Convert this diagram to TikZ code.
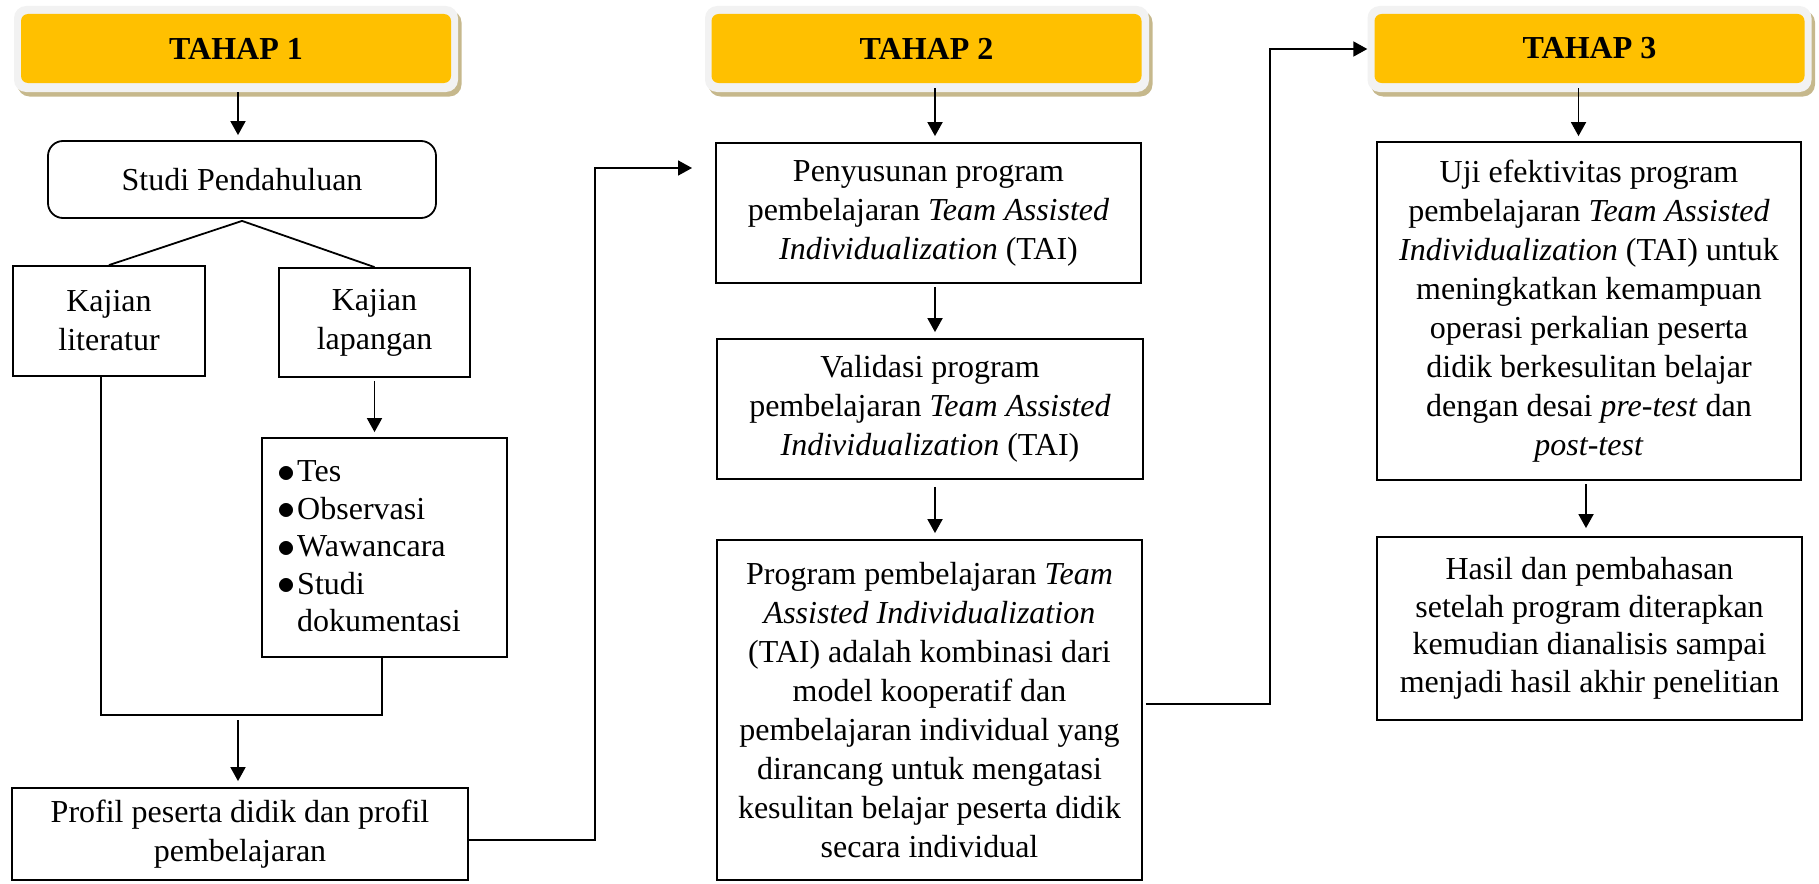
\documentclass[tikz,border=0pt]{standalone}
\usepackage{fontspec}
\setmainfont{Liberation Serif}
\usetikzlibrary{arrows.meta,calc}
\definecolor{tyellow}{RGB}{255,192,0}
\definecolor{tlight}{RGB}{242,242,242}
\definecolor{tshadow}{RGB}{198,184,140}
\newcommand{\bigbul}{\raisebox{-0.5pt}{\scalebox{1.45}{$\bullet$}}}
\begin{document}
\begin{tikzpicture}[x=1pt,y=-1pt,
  txt/.style={align=center, inner sep=0pt, font=\fontsize{32}{39}\selectfont},
  box/.style={txt, draw, line width=1.8pt},
  ln/.style={line width=1.8pt},
  arr/.style={line width=1.8pt, -{Triangle[length=14pt,width=15pt]}},
  hshadow/.style={fill=tshadow, rounded corners=12pt, minimum width=444pt, minimum height=86pt, inner sep=0pt},
  hout/.style={fill=tlight, rounded corners=12pt, minimum width=444pt, minimum height=86pt, inner sep=0pt},
  hin/.style={fill=tyellow, rounded corners=7pt, minimum width=430pt, minimum height=69pt, inner sep=0pt, font=\bfseries\fontsize{32}{39}\selectfont}
]
\useasboundingbox (0,0) rectangle (1819,883);

% ---------- headers ----------
\node[hshadow] (t1s) at (239.5,53.5) {};
\node[hout] (t1o) at (236,49) {};
\node[hin] (t1) at (236,48.5) {TAHAP 1};

\node[hshadow] (t2s) at (930.5,53.5) {};
\node[hout] (t2o) at (927,49) {};
\node[hin] (t2) at (926.5,48.5) {TAHAP 2};

\node[hshadow] (t3s) at (1593,53.5) {};
\node[hout] (t3o) at (1589.5,49) {};
\node[hin] (t3) at (1589.5,48.5) {TAHAP 3};

% ---------- stage 1 ----------
\node[box, rounded corners=15pt, minimum width=388pt, minimum height=77pt] (studi) at (242,179.5) {Studi Pendahuluan};
\node[box, minimum width=192pt, minimum height=110pt] (lit) at (109,321) {Kajian\\literatur};
\node[box, minimum width=191pt, minimum height=109pt] (lap) at (374.5,322.5) {Kajian\\lapangan};
\node[draw, line width=1.8pt, minimum width=245pt, minimum height=219pt, inner sep=0pt] (bul) at (384.5,547.5) {};
\node[anchor=west, inner sep=0pt, font=\fontsize{32}{37.5}\selectfont] (bultext) at (277,549) {%
  \begin{tabular}{@{}l@{\hspace{2pt}}l@{}}
  \bigbul & Tes\\
  \bigbul & Observasi\\
  \bigbul & Wawancara\\
  \bigbul & Studi\\
   & dokumentasi
  \end{tabular}};
\node[box, minimum width=456pt, minimum height=92pt] (prof) at (240,834) {Profil peserta didik dan profil\\pembelajaran};

\draw[arr, shorten >=5pt] ([xshift=2pt]t1o.south) -- ([xshift=2pt]t1o.south |- studi.north);
\draw[ln] ([yshift=-2pt]studi.south) -- (lit.north);
\draw[ln] ([yshift=-2pt]studi.south) -- (lap.north);
\draw[arr, shorten >=5pt] ([yshift=-3pt]lap.south) -- (lap.south |- bul.north);
\coordinate (m1) at (101,715);
\coordinate (m2) at (382,715);
\draw[ln] (m1 |- lit.south) -- (m1) -- (m2) -- (m2 |- bul.south);
\coordinate (m3) at (238,720);
\draw[arr, shorten >=6pt] (m3) -- (m3 |- prof.north);
\coordinate (c1) at (595,168);
\coordinate (p1) at (692,168);
\draw[arr] ([yshift=-6pt]prof.east) -| (c1) -- (p1);

% ---------- stage 2 ----------
\node[box, minimum width=425pt, minimum height=140pt] (pen) at (928.5,213) {Penyusunan program\\pembelajaran \textit{Team Assisted}\\\textit{Individualization} (TAI)};
\node[box, minimum width=426pt, minimum height=140pt] (val) at (930,409) {Validasi program\\pembelajaran \textit{Team Assisted}\\\textit{Individualization} (TAI)};
\node[box, minimum width=425pt, minimum height=340pt] (prog) at (929.5,710) {Program pembelajaran \textit{Team}\\\textit{Assisted Individualization}\\(TAI) adalah kombinasi dari\\model kooperatif dan\\pembelajaran individual yang\\dirancang untuk mengatasi\\kesulitan belajar peserta didik\\secara individual};

\draw[arr, shorten >=6pt] ([xshift=8pt,yshift=4pt]t2o.south) -- ([xshift=8pt]t2o.south |- pen.north);
\draw[arr, shorten >=6pt] ([xshift=6.5pt,yshift=-3pt]pen.south) -- ([xshift=6.5pt]pen.south |- val.north);
\draw[arr, shorten >=6pt] ([xshift=5pt,yshift=-7pt]val.south) -- ([xshift=5pt]val.south |- prog.north);
\coordinate (c2) at (1270,49);
\draw[arr] ([yshift=6pt,xshift=3pt]prog.east) -| (c2) -- (t3o.west);

% ---------- stage 3 ----------
\node[box, minimum width=424pt, minimum height=338pt] (uji) at (1589,311) {Uji efektivitas program\\pembelajaran \textit{Team Assisted}\\\textit{Individualization} (TAI) untuk\\meningkatkan kemampuan\\operasi perkalian peserta\\didik berkesulitan belajar\\dengan desai \textit{pre-test} dan\\\textit{post-test}};
\node[box, minimum width=425pt, minimum height=183pt, font=\fontsize{32}{37.5}\selectfont] (hasil) at (1589.5,628.5) {Hasil dan pembahasan\\setelah program diterapkan\\kemudian dianalisis sampai\\menjadi hasil akhir penelitian};

\draw[arr, shorten >=5pt] ([xshift=-11pt,yshift=4pt]t3o.south) -- ([xshift=-11pt]t3o.south |- uji.north);
\draw[arr, shorten >=8pt] ([xshift=-3pt,yshift=-3pt]uji.south) -- ([xshift=-3pt]uji.south |- hasil.north);
\end{tikzpicture}
\end{document}
